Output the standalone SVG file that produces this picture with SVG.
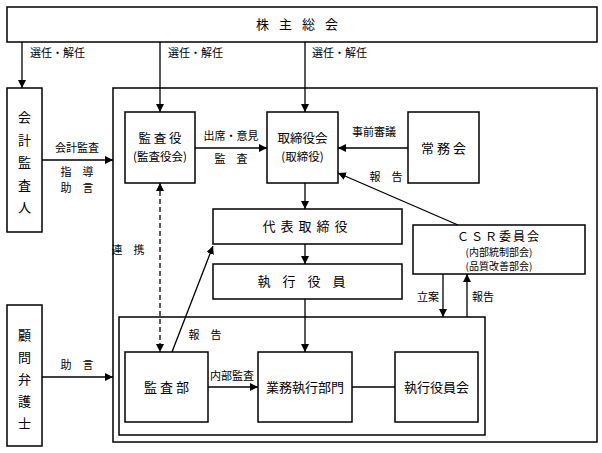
<svg xmlns="http://www.w3.org/2000/svg" width="602" height="453" viewBox="0 0 602 453">
<defs>
<marker id="ah" viewBox="0 0 10 10" refX="10" refY="5" markerWidth="8" markerHeight="8" markerUnits="userSpaceOnUse" orient="auto-start-reverse"><path d="M0,0 L10,5 L0,10 z" fill="#000"/></marker>
<style>
.b{fill:#fff;stroke:#000;stroke-width:1.5}
.l{fill:none;stroke:#000;stroke-width:1.3}
.d{fill:none;stroke:#000;stroke-width:1.3;stroke-dasharray:5,3}
text{font-family:"Noto Sans CJK JP","Noto Sans",sans-serif;fill:#000}
.t{font-size:13px;text-anchor:middle}
.p{font-size:11.5px;text-anchor:middle}
.s{font-size:11px}
.sc{font-size:11px;text-anchor:middle}
</style>
</defs>
<rect width="602" height="453" fill="#fff"/>
<g id="frame-outer"><rect class="b" x="113" y="88" width="484" height="354"/></g>
<g id="frame-inner"><rect class="b" x="119" y="317" width="366" height="118"/></g>
<g id="kabunushi"><rect class="b" x="7" y="7" width="590" height="35"/><text class="t" x="302" y="29" letter-spacing="10">株主総会</text></g>
<g id="kaikei"><rect class="b" x="7" y="88" width="35" height="144"/>
<text class="t" x="24.5" y="122">会</text><text class="t" x="24.5" y="145">計</text><text class="t" x="24.5" y="167">監</text><text class="t" x="24.5" y="190">査</text><text class="t" x="24.5" y="212">人</text></g>
<g id="komon"><rect class="b" x="7" y="305" width="35" height="141"/>
<text class="t" x="24.5" y="340">顧</text><text class="t" x="24.5" y="362">問</text><text class="t" x="24.5" y="384">弁</text><text class="t" x="24.5" y="406">護</text><text class="t" x="24.5" y="428">士</text></g>
<g id="kansayaku"><rect class="b" x="125" y="112" width="70" height="71"/><text class="t" x="160" y="143" style="font-size:12.5px">監 査 役</text><text class="p" x="160" y="161">(監査役会)</text></g>
<g id="torishimariyakukai"><rect class="b" x="267" y="112" width="71" height="71"/><text class="t" x="302.5" y="143" style="font-size:12.5px">取締役会</text><text class="p" x="302.5" y="161">(取締役)</text></g>
<g id="jomukai"><rect class="b" x="408" y="112" width="71" height="71"/><text class="t" x="443.5" y="153">常 務 会</text></g>
<g id="daihyo"><rect class="b" x="213" y="209" width="189" height="35"/><text class="t" x="307.5" y="231" letter-spacing="5">代表取締役</text></g>
<g id="shikkoyakuin"><rect class="b" x="213" y="264" width="189" height="35"/><text class="t" x="307.5" y="286" letter-spacing="12">執行役員</text></g>
<g id="csr"><rect class="b" x="413" y="225" width="172" height="49"/><text class="t" x="499" y="241" style="font-size:12px" letter-spacing="2">ＣＳＲ委員会</text><text class="p" x="499" y="255.5" style="font-size:10px">(内部統制部会)</text><text class="p" x="499" y="270" style="font-size:10px">(品質改善部会)</text></g>
<g id="kansabu"><rect class="b" x="125" y="352" width="83" height="70"/><text class="t" x="166.5" y="392">監 査 部</text></g>
<g id="gyomu"><rect class="b" x="258" y="352" width="94" height="70"/><text class="t" x="305" y="392">業務執行部門</text></g>
<g id="shikkoyakuinkai"><rect class="b" x="395" y="352" width="83" height="70"/><text class="t" x="436.5" y="392">執行役員会</text></g>
<g id="connectors">
<line class="l" x1="22" y1="42" x2="22" y2="88" marker-end="url(#ah)"/>
<line class="l" x1="160" y1="42" x2="160" y2="112" marker-end="url(#ah)"/>
<line class="l" x1="305" y1="42" x2="305" y2="112" marker-end="url(#ah)"/>
<line class="l" x1="42" y1="160" x2="113" y2="160" marker-end="url(#ah)"/>
<line class="l" x1="42" y1="377" x2="113" y2="377" marker-end="url(#ah)"/>
<line class="l" x1="195" y1="148" x2="267" y2="148" marker-end="url(#ah)"/>
<line class="l" x1="408" y1="148" x2="338" y2="148" marker-end="url(#ah)"/>
<line class="l" x1="458" y1="225" x2="338" y2="173" marker-end="url(#ah)"/>
<line class="l" x1="305" y1="183" x2="305" y2="209" marker-end="url(#ah)"/>
<line class="l" x1="305" y1="244" x2="305" y2="264" marker-end="url(#ah)"/>
<line class="l" x1="305" y1="299" x2="305" y2="352" marker-end="url(#ah)"/>
<line class="l" x1="443" y1="274" x2="443" y2="317" marker-end="url(#ah)"/>
<line class="l" x1="467" y1="317" x2="467" y2="274" marker-end="url(#ah)"/>
<line class="l" x1="208" y1="387" x2="258" y2="387" marker-end="url(#ah)"/>
<line class="l" x1="352" y1="387" x2="395" y2="387"/>
<line class="l" x1="172" y1="352" x2="213" y2="246" marker-end="url(#ah)"/>
<line class="d" x1="160" y1="183" x2="160" y2="352" marker-start="url(#ah)" marker-end="url(#ah)"/>
</g>
<g id="labels">
<text class="s" x="30" y="57">選任・解任</text>
<text class="s" x="168" y="57">選任・解任</text>
<text class="s" x="312" y="57">選任・解任</text>
<text class="sc" x="77" y="152">会計監査</text>
<text class="sc" x="77" y="176">指　導</text>
<text class="sc" x="77" y="192">助　言</text>
<text class="sc" x="77" y="369">助　言</text>
<text class="sc" x="231" y="140">出席・意見</text>
<text class="sc" x="231" y="163">監　査</text>
<text class="sc" x="374" y="136">事前審議</text>
<text class="sc" x="386" y="181">報　告</text>
<text class="sc" x="128" y="254">連　携</text>
<text class="sc" x="205" y="339">報　告</text>
<text class="sc" x="232" y="380">内部監査</text>
<text class="sc" x="428" y="301">立案</text>
<text class="sc" x="483" y="301">報告</text>
</g>
</svg>
